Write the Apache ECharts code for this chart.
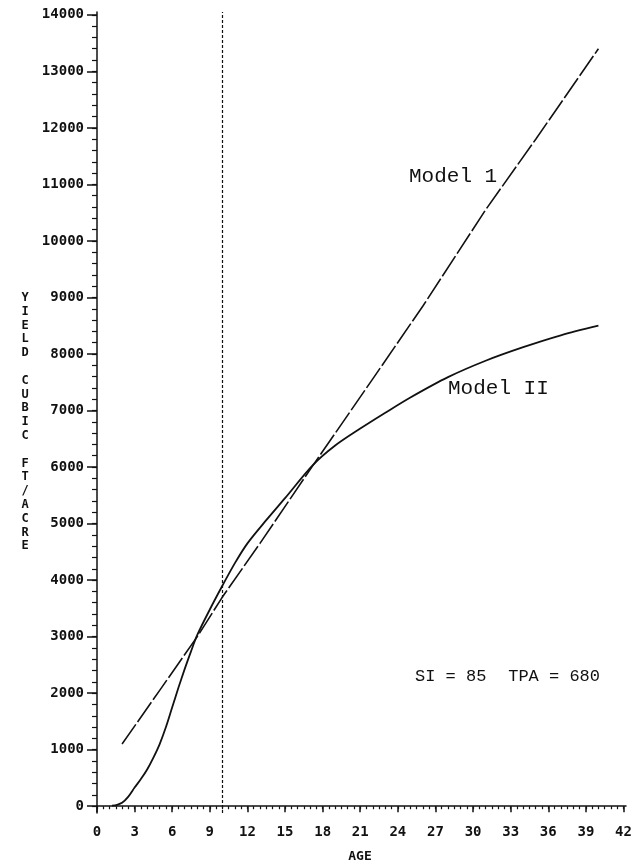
<!DOCTYPE html>
<html>
<head>
<meta charset="utf-8">
<script src="https://cdn.jsdelivr.net/npm/echarts@6/dist/echarts.min.js"></script>
<style>
  html, body { margin: 0; padding: 0; background: #fff; }
  #chart { width: 636px; height: 867px; }
</style>
</head>
<body>
<div id="chart"></div>
<script>
// Tick positions
const ageTicks = [0, 3, 6, 9, 12, 15, 18, 21, 24, 27, 30, 33, 36, 39, 42];
const yieldTicks = [0, 1000, 2000, 3000, 4000, 5000, 6000, 7000, 8000, 9000, 10000, 11000, 12000, 13000, 14000];

// Model 1 (dashed): yield in cubic ft/acre by age
const model1Age   = [2, 5, 8, 10, 13, 17.2, 22, 26, 31, 35, 40];
const model1Yield = [1100, 2050, 3000, 3700, 4650, 6020, 7560, 8850, 10550, 11800, 13400];

// Model II (solid)
const model2Age   = [1.2, 1.6, 2, 2.5, 3, 3.5, 4, 4.5, 5, 5.5, 6, 6.5, 7, 7.5, 8, 9, 10, 11, 12, 13.5, 15, 17.2, 19, 21, 23, 25, 28, 31, 34, 37, 40];
const model2Yield = [10, 25, 60, 170, 330, 480, 650, 860, 1100, 1400, 1750, 2100, 2430, 2740, 3030, 3480, 3900, 4300, 4650, 5060, 5450, 6030, 6380, 6680, 6960, 7230, 7590, 7880, 8120, 8330, 8500];

// Reference age marked by the dotted vertical line
const markAge = 10;

const ink = '#111';
const axisFont = 'DejaVu Sans Mono';
const noteFont = 'Liberation Mono';

function range(a, b, step) {
  const out = [];
  for (let v = a; v <= b + 1e-9; v += step) out.push(+v.toFixed(2));
  return out;
}

const chart = echarts.init(document.getElementById('chart'), null, { renderer: 'canvas' });

const xBase = {
  type: 'value', min: 0, max: 42.2, position: 'bottom',
  splitLine: { show: false }
};
const yBase = {
  type: 'value', min: -120, max: 14050, position: 'left',
  splitLine: { show: false }
};
const plain = v => String(v);

chart.setOption({
  animation: false,
  backgroundColor: '#fff',
  grid: { left: 97, right: 10, top: 12, bottom: 54, containLabel: false },
  xAxis: [
    Object.assign({}, xBase, {
      axisLine: { show: true, lineStyle: { color: ink, width: 1.5 } },
      axisTick: { show: true, inside: false, length: 6, customValues: ageTicks, lineStyle: { color: ink, width: 1.5 } },
      axisLabel: { show: true, customValues: ageTicks, formatter: plain, margin: 12, color: ink, fontFamily: axisFont, fontWeight: 'bold', fontSize: 14 }
    }),
    Object.assign({}, xBase, {
      axisLine: { show: false },
      axisTick: { show: true, inside: false, length: 3, customValues: range(0, 42, 0.5), lineStyle: { color: ink, width: 1.2 } },
      axisLabel: { show: false }
    })
  ],
  yAxis: [
    Object.assign({}, yBase, {
      axisLine: { show: true, lineStyle: { color: ink, width: 1.5 } },
      axisTick: { show: true, inside: false, length: 10, customValues: yieldTicks, lineStyle: { color: ink, width: 1.5 } },
      axisLabel: { show: true, customValues: yieldTicks, formatter: plain, margin: 13, color: ink, fontFamily: axisFont, fontWeight: 'bold', fontSize: 14 }
    }),
    Object.assign({}, yBase, {
      axisLine: { show: false },
      axisTick: { show: true, inside: false, length: 5, customValues: range(0, 14000, 200), lineStyle: { color: ink, width: 1.2 } },
      axisLabel: { show: false }
    })
  ],
  series: [
    {
      name: 'Model 1',
      type: 'line',
      xAxisIndex: 0, yAxisIndex: 0,
      data: model1Age.map((a, i) => [a, model1Yield[i]]),
      showSymbol: false,
      smooth: false,
      lineStyle: { color: ink, width: 1.6, type: [24, 3] },
      markLine: {
        silent: true,
        symbol: ['none', 'none'],
        label: { show: false },
        lineStyle: { color: ink, width: 1.2, type: [3, 2] },
        data: [{ xAxis: markAge }]
      }
    },
    {
      name: 'Model II',
      type: 'line',
      xAxisIndex: 0, yAxisIndex: 0,
      data: model2Age.map((a, i) => [a, model2Yield[i]]),
      showSymbol: false,
      smooth: 0.3,
      lineStyle: { color: ink, width: 1.8, type: 'solid' }
    }
  ],
  graphic: [
    {
      type: 'text', x: 25, y: 291,
      style: {
        text: 'YIELD CUBIC FT/ACRE'.split('').join('\n'),
        font: 'bold 12px "' + axisFont + '"',
        lineHeight: 13.8,
        align: 'center', verticalAlign: 'top', fill: ink
      }
    },
    {
      type: 'text', x: 360, y: 857,
      style: { text: 'AGE', font: 'bold 13px "' + axisFont + '"', align: 'center', verticalAlign: 'middle', fill: ink }
    },
    {
      type: 'text', x: 409, y: 176,
      style: { text: 'Model 1', font: '21px "' + noteFont + '"', align: 'left', verticalAlign: 'middle', fill: ink }
    },
    {
      type: 'text', x: 448, y: 388,
      style: { text: 'Model II', font: '21px "' + noteFont + '"', align: 'left', verticalAlign: 'middle', fill: ink }
    },
    {
      type: 'text', x: 415, y: 676,
      style: { text: 'SI = 85', font: '17px "' + noteFont + '"', align: 'left', verticalAlign: 'middle', fill: ink }
    },
    {
      type: 'text', x: 600, y: 676,
      style: { text: 'TPA = 680', font: '17px "' + noteFont + '"', align: 'right', verticalAlign: 'middle', fill: ink }
    }
  ]
});
</script>
</body>
</html>
